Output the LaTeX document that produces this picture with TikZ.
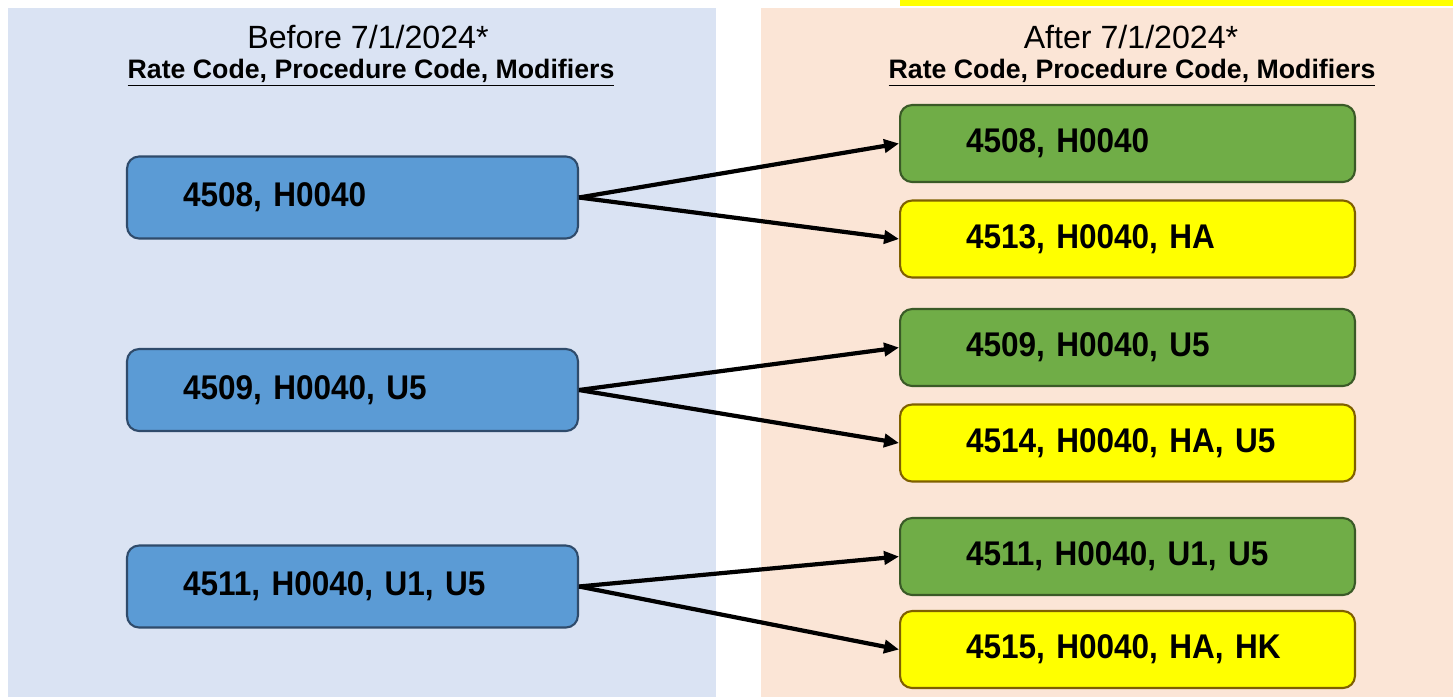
\documentclass[tikz,border=0pt]{standalone}
\usepackage{fontspec}
\setmainfont{Liberation Sans}
\newfontfamily\codefont[FakeStretch=0.92]{Liberation Sans}
\usetikzlibrary{arrows.meta}
\definecolor{panelblue}{HTML}{DAE3F3}
\definecolor{panelpeach}{HTML}{FBE5D6}
\definecolor{oldfill}{HTML}{5B9BD5}
\definecolor{olddraw}{HTML}{2F4B6B}
\definecolor{keepfill}{HTML}{70AD47}
\definecolor{keepdraw}{HTML}{3A5A27}
\definecolor{newfill}{HTML}{FFFF00}
\definecolor{newdraw}{HTML}{7F6000}

\tikzset{
  code/.style={rounded corners=0.24cm, line width=1.2pt, align=left,
    font=\codefont\fontsize{19.5}{23}\selectfont\bfseries},
  oldcode/.style={code, fill=oldfill, draw=olddraw, text width=6.78cm, inner xsep=1.12cm, minimum height=1.64cm},
  keepcode/.style={code, fill=keepfill, draw=keepdraw, text width=6.46cm, inner xsep=1.32cm, minimum height=1.54cm},
  newcode/.style={code, fill=newfill, draw=newdraw, text width=6.46cm, inner xsep=1.32cm, minimum height=1.54cm},
  head/.style={font=\fontsize{18.3}{21}\selectfont},
  subhead/.style={font=\fontsize{15.2}{18}\selectfont\bfseries},
  map/.style={line width=2.4pt, -{Triangle[length=8.5pt,width=7.5pt]}}
}

\begin{document}
\begin{tikzpicture}[x=0.02cm,y=-0.02cm]
\useasboundingbox (0,0) rectangle (1453,697);
%\draw[step=50,gray,very thin] (0,0) grid (1453,697); %background grid
\fill[panelblue] (8,8) rectangle (716,697);
\fill[panelpeach] (761,8) rectangle (1453,697);
\fill[newfill] (900,0) rectangle (1453,6);

\node[head] (beforehead) at (368,37) {Before 7/1/2024*};
\node[subhead] (beforesub) at (371,73) {\underline{Rate Code, Procedure Code, Modifiers}};
\node[head] (afterhead) at (1131,37) {After 7/1/2024*};
\node[subhead] (aftersub) at (1132,73) {\underline{Rate Code, Procedure Code, Modifiers}};

\node[oldcode] (old1) at (352.5,197.5) {4508, H0040};
\node[oldcode] (old2) at (352.5,390) {4509, H0040, U5};
\node[oldcode] (old3) at (352.5,586.5) {4511, H0040, U1, U5};

\node[keepcode] (keep1) at (1127.5,143.5) {4508, H0040};
\node[newcode] (new1) at (1127.5,239) {4513, H0040, HA};
\node[keepcode] (keep2) at (1127.5,347.5) {4509, H0040, U5};
\node[newcode] (new2) at (1127.5,443) {4514, H0040, HA, U5};
\node[keepcode] (keep3) at (1127.5,556.5) {4511, H0040, U1, U5};
\node[newcode] (new3) at (1127.5,649.5) {4515, H0040, HA, HK};

\draw[map] (old1.east) -- (keep1.west);
\draw[map] (old1.east) -- (new1.west);
\draw[map] (old2.east) -- (keep2.west);
\draw[map] (old2.east) -- (new2.west);
\draw[map] (old3.east) -- (keep3.west);
\draw[map] (old3.east) -- (new3.west);
\end{tikzpicture}
\end{document}
